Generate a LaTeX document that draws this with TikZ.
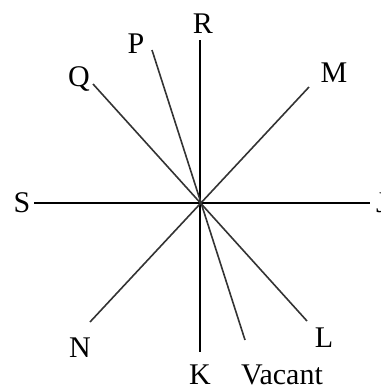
\documentclass[tikz,border=0pt]{standalone}
\usepackage{fontspec}
\setmainfont{Liberation Serif}
\begin{document}
\begin{tikzpicture}[x=1bp,y=-1bp,
  lbl/.style={inner sep=0pt,anchor=base,font=\fontsize{30bp}{32bp}\selectfont},
  axis/.style={line width=1.3bp,black},
  ray/.style={line width=1.6bp,black!80}]
\useasboundingbox (0,0) rectangle (381,389);
% endpoints
\coordinate (rt) at (200,40);
\coordinate (kb) at (200,352);
\coordinate (sl) at (34,203);
\coordinate (jr) at (370,203);
\coordinate (qt) at (93,84);
\coordinate (lb) at (307,321);
\coordinate (mt) at (309,87);
\coordinate (nb) at (90,322);
\coordinate (pt) at (152,50);
\coordinate (vb) at (245,340);
% labels
\node[lbl] (R) at (203,33) {R};
\node[lbl] (P) at (136,53) {P};
\node[lbl] (Q) at (79,86) {Q};
\node[lbl] (M) at (334,82) {M};
\node[lbl] (S) at (22,212) {S};
\node[lbl,anchor=base west] (J) at (376,212) {J};
\node[lbl] (N) at (80,357) {N};
\node[lbl] (K) at (200,384) {K};
\node[lbl] (V) at (282,384) {Vacant};
\node[lbl] (L) at (324,347) {L};
% lines
\draw[axis] (rt) -- (kb);
\draw[axis] (sl) -- (jr);
\draw[ray] (qt) -- (lb);
\draw[ray] (mt) -- (nb);
\draw[ray] (pt) -- (vb);
\end{tikzpicture}
\end{document}
